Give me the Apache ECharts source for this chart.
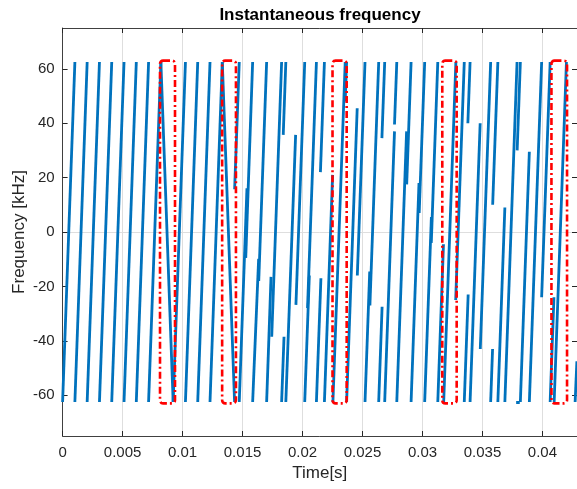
<!DOCTYPE html>
<html>
<head>
<meta charset="utf-8">
<script src="https://cdn.jsdelivr.net/npm/echarts@6/dist/echarts.min.js"></script>
<style>
  html, body { margin: 0; padding: 0; background: #fff; }
  #chart { width: 577px; height: 489px; }
</style>
</head>
<body>
<div id="chart"></div>
<script>
// time in seconds, frequency in kHz; each segment = [t0, f0, t1, f1]
const preambleSegments = [
  [0, -62.5, 0.001024, 62.5],
  [0.001024, -62.5, 0.002048, 62.5],
  [0.002048, -62.5, 0.003072, 62.5],
  [0.003072, -62.5, 0.004096, 62.5],
  [0.004096, -62.5, 0.00512, 62.5],
  [0.00512, -62.5, 0.006144, 62.5],
  [0.006144, -62.5, 0.007168, 62.5],
  [0.007168, -62.5, 0.008192, 62.5],
  [0.008192, 62.5, 0.009216, -62.5],
  [0.009216, -62.5, 0.01024, 62.5],
  [0.01024, -62.5, 0.011264, 62.5],
  [0.011264, -62.5, 0.012288, 62.5],
  [0.012288, -62.5, 0.013312, 62.5],
  [0.013312, 62.5, 0.014336, -62.5]
];

const payloadSegments = [
  [0.01434, 15.7, 0.014725, 62.5], [0.014725, -62.5, 0.015367, 16.1],
  [0.015267, -9.5, 0.015842, 62.5], [0.015842, -62.5, 0.016342, -9.9],
  [0.01635, -18, 0.017008, 62.5], [0.017008, -62.5, 0.017375, -16.5],
  [0.017433, -38.5, 0.018258, 62.5], [0.018258, -62.5, 0.018458, -38.5],
  [0.018392, 35.7, 0.018608, 62.5], [0.018608, -62.5, 0.019425, 35.7],
  [0.01945, -26.8, 0.020183, 62.5], [0.020183, -62.5, 0.020567, -16],
  [0.020417, -28, 0.021158, 62.5], [0.021158, -62.5, 0.021533, -17],
  [0.021492, 22, 0.021825, 62.5], [0.021825, -62.5, 0.022508, 21],
  [0.022533, -62.5, 0.023558, 62.5],
  [0.023558, 48, 0.023675, 62.5], [0.023675, -62.5, 0.024558, 45.5],
  [0.024567, -16, 0.025208, 62.5], [0.025208, -62.5, 0.0256, -14.5],
  [0.025617, -27, 0.02635, 62.5], [0.02635, -62.5, 0.026633, -27.5],
  [0.026617, 34.5, 0.02685, 62.5], [0.02685, -62.5, 0.027667, 37],
  [0.027667, 39.5, 0.027858, 62.5], [0.027858, -62.5, 0.028675, 37],
  [0.028683, 17.5, 0.02905, 62.5], [0.02905, -62.5, 0.029708, 18],
  [0.029725, 7, 0.030183, 62.5], [0.030183, -62.5, 0.030742, 5.5],
  [0.030733, -4, 0.031275, 62.5], [0.031275, -62.5, 0.03175, -4.5],
  [0.031767, -62.5, 0.032783, 62.5],
  [0.032767, -25, 0.033483, 62.5], [0.033483, -62.5, 0.033808, -23],
  [0.033783, 40, 0.033967, 62.5], [0.033967, -62.5, 0.034808, 40],
  [0.034817, -43, 0.035683, 62.5], [0.035683, -62.5, 0.035842, -43],
  [0.03585, 10, 0.036283, 62.5], [0.036283, -62.5, 0.036867, 9],
  [0.036867, -62.5, 0.037883, 62.5],
  [0.037808, -62.5, 0.038108, -62.5],
  [0.037892, 30, 0.038158, 62.5], [0.038158, -62.5, 0.038908, 29.5],
  [0.038908, -62.5, 0.039933, 62.5],
  [0.039933, -24, 0.040642, 62.5], [0.040642, -62.5, 0.040958, -24],
  [0.040975, -62.5, 0.042, 62.5],
  [0.042725, -62.5, 0.04287, -47.5]
];

// red dash-dot boxes: time spans, and their frequency extent
const boxSpans = [
  [0.00812, 0.00937],
  [0.01330, 0.01445],
  [0.02250, 0.02368],
  [0.03165, 0.03285],
  [0.04075, 0.04205]
];
const boxFreq = [-63, 63];

const yTicks = [-60, -40, -20, 0, 20, 40, 60];
const xMax = 0.04288;

const font = 'Liberation Sans, Arial, Helvetica, sans-serif';
const ink = '#262626';
const gridGray = '#dedede';

const chart = echarts.init(document.getElementById('chart'), null, { renderer: 'canvas' });

function xLabel(v) {
  const n = v / 0.005;
  if (Math.abs(n - Math.round(n)) > 1e-6) return '';
  return String(parseFloat(v.toFixed(3)));
}

chart.setOption({
  animation: false,
  backgroundColor: '#fff',
  grid: { left: 62.6, right: 0, top: 28, bottom: 53, outerBoundsMode: 'none', containLabel: false },
  graphic: [{
    type: 'text', x: 320, y: 15,
    style: { text: 'Instantaneous frequency', font: 'bold 17px ' + font, fill: '#000',
      textAlign: 'center', textVerticalAlign: 'middle' }
  }],
  xAxis: [{
    type: 'value', min: 0, max: xMax, interval: 0.005,
    name: 'Time[s]', nameLocation: 'middle', nameGap: 28,
    nameTextStyle: { fontFamily: font, fontSize: 17, color: ink },
    axisLine: { show: true, onZero: false, lineStyle: { color: '#404040', width: 1 } },
    axisTick: { show: true, inside: true, length: 5, lineStyle: { color: ink } },
    axisLabel: { show: true, margin: 9, fontFamily: font, fontSize: 15, color: ink, formatter: xLabel, showMaxLabel: false },
    splitLine: { show: true, showMinLine: false, showMaxLine: false, lineStyle: { color: gridGray, width: 1 } }
  }, {
    type: 'value', position: 'top', min: 0, max: xMax, interval: 0.005,
    axisLine: { show: true, onZero: false, lineStyle: { color: '#404040', width: 1 } },
    axisTick: { show: true, inside: true, length: 5, lineStyle: { color: ink } },
    axisLabel: { show: false }, splitLine: { show: false }
  }],
  yAxis: [{
    type: 'value', min: -75, max: 75, interval: 5,
    name: 'Frequency [kHz]', nameLocation: 'middle', nameGap: 35, nameMoveOverlap: false,
    nameTextStyle: { fontFamily: font, fontSize: 17, color: ink },
    axisLine: { show: true, onZero: false, lineStyle: { color: '#404040', width: 1 } },
    axisTick: { show: true, inside: true, length: 5, customValues: yTicks, lineStyle: { color: ink } },
    axisLabel: { show: true, margin: 8, fontFamily: font, fontSize: 15, color: ink, customValues: yTicks },
    splitLine: { show: true, lineStyle: { color: ['rgba(0,0,0,0)', 'rgba(0,0,0,0)', 'rgba(0,0,0,0)', gridGray], width: 1 } }
  }, {
    type: 'value', position: 'right', min: -75, max: 75, interval: 5,
    axisLine: { show: true, onZero: false, lineStyle: { color: '#404040', width: 1 } },
    axisTick: { show: true, inside: true, length: 5, customValues: yTicks, lineStyle: { color: ink } },
    axisLabel: { show: false }, splitLine: { show: false }
  }],
  series: [{
    type: 'lines',
    coordinateSystem: 'cartesian2d',
    xAxisIndex: 0, yAxisIndex: 0,
    polyline: false,
    silent: true,
    z: 3,
    lineStyle: { color: '#0072BD', width: 2.8, opacity: 1, curveness: 0, cap: 'butt' },
    data: preambleSegments.concat(payloadSegments).map(s => ({ coords: [[s[0], s[1]], [s[2], s[3]]] }))
  }, {
    type: 'custom',
    coordinateSystem: 'cartesian2d',
    xAxisIndex: 0, yAxisIndex: 0,
    silent: true,
    z: 4,
    data: boxSpans.map(b => [b[0], b[1], boxFreq[0], boxFreq[1]]),
    encode: { x: [0, 1], y: [2, 3] },
    renderItem: function (params, api) {
      const p0 = api.coord([api.value(0), api.value(3)]);
      const p1 = api.coord([api.value(1), api.value(2)]);
      return {
        type: 'rect',
        shape: { x: p0[0], y: p0[1], width: p1[0] - p0[0], height: p1[1] - p0[1], r: 3 },
        style: { fill: 'none', stroke: '#ff0000', lineWidth: 2.6, lineDash: [7, 3, 2, 3] }
      };
    }
  }]
});
</script>
</body>
</html>
